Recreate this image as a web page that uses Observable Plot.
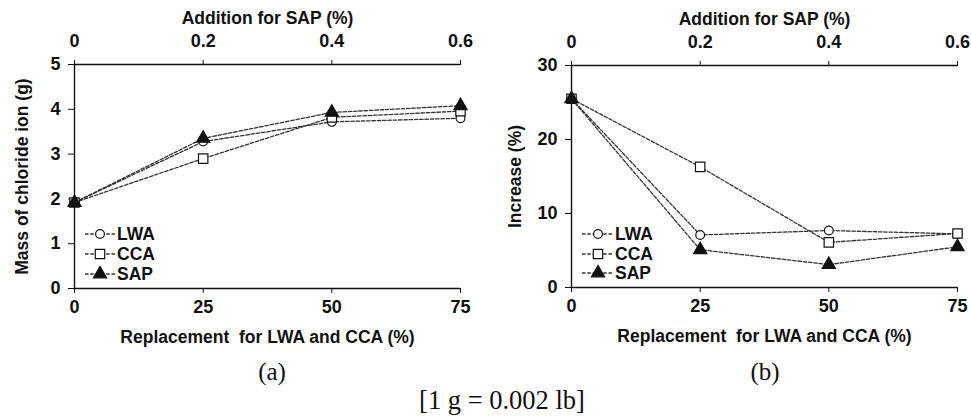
<!DOCTYPE html>
<html>
<head>
<meta charset="utf-8">
<script src="https://cdn.jsdelivr.net/npm/d3@7"></script>
<script src="https://cdn.jsdelivr.net/npm/@observablehq/plot@0.6"></script>
<style>
  html, body { margin: 0; padding: 0; background: #fff; }
  #wrap { position: relative; width: 971px; height: 417px; overflow: hidden; }
  #left { position: absolute; left: 0; top: 0; }
  #right { position: absolute; left: 486px; top: 0; }
  .sub { position: absolute; font-family: "Liberation Serif", "Times New Roman", serif; font-size: 25px; line-height: 28px; color: #111; transform: translateX(-50%); white-space: nowrap; }
  #caption { font-size: 26.5px; }
</style>
</head>
<body>
<div id="wrap">
  <div id="left"></div>
  <div id="right"></div>
  <div class="sub" id="capA" style="left:272px; top:358px;">(a)</div>
  <div class="sub" id="capB" style="left:765px; top:358px;">(b)</div>
  <div class="sub" id="caption" style="left:502px; top:386px;">[1 g = 0.002 lb]</div>
</div>
<script>
// ---- data ----
const replacement = [0, 25, 50, 75];            // bottom axis (LWA, CCA replacement %)
const sapAddition = ["0", "0.2", "0.4", "0.6"];  // top axis labels (SAP addition %)
const seriesNames = ["LWA", "CCA", "SAP"];

const massLWA = [1.92, 3.28, 3.72, 3.80];
const massCCA = [1.92, 2.90, 3.82, 3.96];
const massSAP = [1.92, 3.35, 3.93, 4.08];

const incLWA = [25.5, 7.1, 7.7, 7.25];
const incCCA = [25.5, 16.3, 6.1, 7.3];
const incSAP = [25.5, 5.1, 3.1, 5.5];

const massTicks = [0, 1, 2, 3, 4, 5];
const incTicks = [0, 10, 20, 30];

const texts = {
  top: "Addition for SAP (%)",
  bottom: "Replacement  for LWA and CCA (%)",
  yA: "Mass of chloride ion (g)",
  yB: "Increase (%)"
};

function rows(a, b, c) {
  const out = [];
  [a, b, c].forEach((vals, s) => vals.forEach((v, i) => out.push({series: seriesNames[s], x: replacement[i], y: v})));
  return out;
}

const FONT = "'Liberation Sans', Arial, Helvetica, sans-serif";
const INK = "#111";
const LINE = "#333";
const TICKFS = 18;
const symbolSpec = {
  LWA: {symbol: "circle", fill: "white", r: 4.4},
  CCA: {symbol: "square", fill: "white", r: 5.3},
  SAP: {symbol: "triangle", fill: INK, r: 4.9}
};

function panel(data, yMax, yTicks, yLabel, m, yLabelDx) {
  const W = m.width, H = 350;
  const marks = [
    Plot.ruleY([0], {stroke: INK, strokeWidth: 1.4}),
    Plot.ruleY([yMax], {stroke: INK, strokeWidth: 1.4}),
    Plot.ruleX([0], {stroke: INK, strokeWidth: 1.4}),
    Plot.axisY({ticks: yTicks, tickSize: 6, tickPadding: 8, label: null, tickFormat: d3.format("d"), stroke: INK, fill: INK, fontSize: TICKFS}),
    Plot.axisX({anchor: "bottom", ticks: replacement, tickSize: 5, tickPadding: 7, label: null, tickFormat: d3.format("d"), stroke: INK, fill: INK, fontSize: TICKFS}),
    Plot.axisX({anchor: "top", ticks: replacement, tickSize: 5, tickPadding: 13, label: null,
      tickFormat: (d) => sapAddition[replacement.indexOf(d)], stroke: INK, fill: INK, fontSize: TICKFS}),
    Plot.line(data, {x: "x", y: "y", z: "series", stroke: LINE, strokeWidth: 1.3, strokeDasharray: "3.5,1.8"})
  ];
  seriesNames.forEach((s) => {
    const sp = symbolSpec[s];
    marks.push(Plot.dot(data.filter((d) => d.series === s), {x: "x", y: "y", symbol: sp.symbol, r: sp.r, fill: sp.fill, stroke: INK, strokeWidth: 1.2}));
  });
  marks.push(
    Plot.text([texts.top], {frameAnchor: "top", dy: -46, text: (d) => d, fontSize: 17.5, fontWeight: "bold", fill: INK, lineAnchor: "middle", textAnchor: "middle"}),
    Plot.text([texts.bottom], {frameAnchor: "bottom", dy: 49, text: (d) => d, fontSize: 17.5, fontWeight: "bold", fill: INK, lineAnchor: "middle", textAnchor: "middle"}),
    Plot.text([yLabel], {frameAnchor: "left", dx: yLabelDx, rotate: -90, text: (d) => d, fontSize: 17.5, fontWeight: "bold", fill: INK, lineAnchor: "middle", textAnchor: "middle"})
  );
  const svg = Plot.plot({
    width: W, height: H,
    marginLeft: m.left, marginRight: m.right, marginTop: m.top, marginBottom: H - m.bottomY,
    x: {domain: [0, 75]},
    y: {domain: [0, yMax]},
    style: {fontFamily: FONT, fontSize: TICKFS + "px", fontWeight: "bold", color: INK, background: "white", overflow: "visible"},
    marks
  });
  // make sure tick labels use the intended size
  d3.select(svg).selectAll('g[aria-label$="tick label"]').style("font-size", TICKFS + "px");
  // legend
  const g = d3.select(svg).append("g")
    .attr("transform", `translate(${m.left},${m.bottomY})`)
    .attr("font-family", FONT).attr("font-weight", "bold").attr("fill", INK)
    .style("font-size", "17.5px")
    .attr("text-anchor", "start");
  seriesNames.forEach((s, i) => {
    const y = m.legendY[i];
    const sp = symbolSpec[s];
    g.append("line").attr("x1", 11).attr("x2", m.legendX + 15).attr("y1", y).attr("y2", y)
      .attr("stroke", LINE).attr("stroke-width", 1.3).attr("stroke-dasharray", "3.5,1.8");
    const sym = {circle: d3.symbolCircle, square: d3.symbolSquare, triangle: d3.symbolTriangle}[sp.symbol];
    g.append("path").attr("d", d3.symbol(sym, Math.PI * sp.r * sp.r)())
      .attr("transform", `translate(${m.legendX},${y})`)
      .attr("fill", sp.fill).attr("stroke", INK).attr("stroke-width", 1.2);
    g.append("text").attr("x", m.legendX + 17).attr("y", y).attr("dy", "0.35em")
      .style("text-anchor", "start").text(s);
  });
  return svg;
}

document.getElementById("left").append(
  panel(rows(massLWA, massCCA, massSAP), 5, massTicks, texts.yA,
    {width: 486, left: 74, right: 26, top: 64, bottomY: 288, legendX: 26, legendY: [-54, -34, -14]}, -52)
);
document.getElementById("right").append(
  panel(rows(incLWA, incCCA, incSAP), 30, incTicks, texts.yB,
    {width: 485, left: 85, right: 14, top: 65, bottomY: 287, legendX: 27, legendY: [-53, -33, -14]}, -56)
);
</script>
</body>
</html>
